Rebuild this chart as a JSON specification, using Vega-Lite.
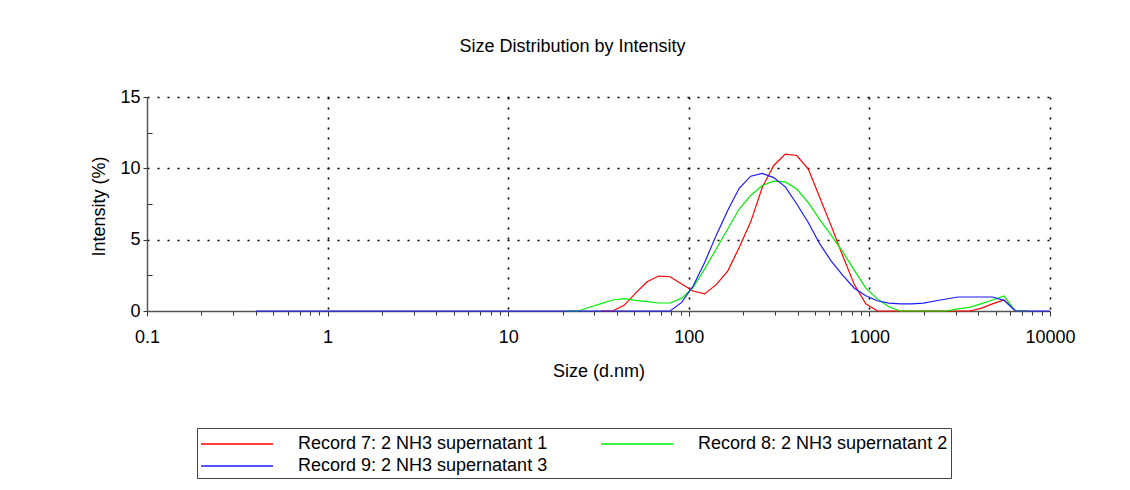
{
  "$schema": "https://vega.github.io/schema/vega-lite/v6.json",
  "autosize": {"type": "none"},
  "padding": {"left": 147, "top": 97, "right": 80, "bottom": 179},
  "width": 903,
  "height": 214,
  "background": "white",
  "title": {
    "text": "Size Distribution by Intensity",
    "anchor": "middle",
    "frame": "group",
    "dx": -26,
    "offset": 32,
    "font": "Liberation Sans",
    "fontSize": 18,
    "fontWeight": "normal",
    "color": "#000"
  },
  "config": {
    "view": {"stroke": null},
    "font": "Liberation Sans"
  },
  "data": {
    "values": [
      {"record": "Record 7: 2 NH3 supernatant 1", "size": 32.67, "intensity": 0},
      {"record": "Record 7: 2 NH3 supernatant 1", "size": 37.84, "intensity": 0},
      {"record": "Record 7: 2 NH3 supernatant 1", "size": 43.82, "intensity": 0.4},
      {"record": "Record 7: 2 NH3 supernatant 1", "size": 50.75, "intensity": 1.25},
      {"record": "Record 7: 2 NH3 supernatant 1", "size": 58.77, "intensity": 2.05},
      {"record": "Record 7: 2 NH3 supernatant 1", "size": 68.06, "intensity": 2.45},
      {"record": "Record 7: 2 NH3 supernatant 1", "size": 78.82, "intensity": 2.4},
      {"record": "Record 7: 2 NH3 supernatant 1", "size": 91.28, "intensity": 1.9},
      {"record": "Record 7: 2 NH3 supernatant 1", "size": 105.7, "intensity": 1.4},
      {"record": "Record 7: 2 NH3 supernatant 1", "size": 122.4, "intensity": 1.2},
      {"record": "Record 7: 2 NH3 supernatant 1", "size": 141.8, "intensity": 1.85},
      {"record": "Record 7: 2 NH3 supernatant 1", "size": 164.2, "intensity": 2.8},
      {"record": "Record 7: 2 NH3 supernatant 1", "size": 190.1, "intensity": 4.45},
      {"record": "Record 7: 2 NH3 supernatant 1", "size": 220.2, "intensity": 6.25},
      {"record": "Record 7: 2 NH3 supernatant 1", "size": 255.0, "intensity": 8.65},
      {"record": "Record 7: 2 NH3 supernatant 1", "size": 295.3, "intensity": 10.2},
      {"record": "Record 7: 2 NH3 supernatant 1", "size": 342.0, "intensity": 11.0},
      {"record": "Record 7: 2 NH3 supernatant 1", "size": 396.1, "intensity": 10.9},
      {"record": "Record 7: 2 NH3 supernatant 1", "size": 458.7, "intensity": 9.95},
      {"record": "Record 7: 2 NH3 supernatant 1", "size": 531.2, "intensity": 7.95},
      {"record": "Record 7: 2 NH3 supernatant 1", "size": 615.1, "intensity": 5.95},
      {"record": "Record 7: 2 NH3 supernatant 1", "size": 712.4, "intensity": 3.85},
      {"record": "Record 7: 2 NH3 supernatant 1", "size": 825.0, "intensity": 1.85},
      {"record": "Record 7: 2 NH3 supernatant 1", "size": 955.4, "intensity": 0.5},
      {"record": "Record 7: 2 NH3 supernatant 1", "size": 1106, "intensity": 0},
      {"record": "Record 7: 2 NH3 supernatant 1", "size": 1281, "intensity": 0},
      {"record": "Record 7: 2 NH3 supernatant 1", "size": 1484, "intensity": 0},
      {"record": "Record 7: 2 NH3 supernatant 1", "size": 1718, "intensity": 0},
      {"record": "Record 7: 2 NH3 supernatant 1", "size": 1990, "intensity": 0},
      {"record": "Record 7: 2 NH3 supernatant 1", "size": 2305, "intensity": 0},
      {"record": "Record 7: 2 NH3 supernatant 1", "size": 2669, "intensity": 0},
      {"record": "Record 7: 2 NH3 supernatant 1", "size": 3091, "intensity": 0},
      {"record": "Record 7: 2 NH3 supernatant 1", "size": 3580, "intensity": 0},
      {"record": "Record 7: 2 NH3 supernatant 1", "size": 4145, "intensity": 0.18},
      {"record": "Record 7: 2 NH3 supernatant 1", "size": 4801, "intensity": 0.5},
      {"record": "Record 7: 2 NH3 supernatant 1", "size": 5560, "intensity": 0.78},
      {"record": "Record 7: 2 NH3 supernatant 1", "size": 6439, "intensity": 0},
      {"record": "Record 7: 2 NH3 supernatant 1", "size": 7456, "intensity": 0},

      {"record": "Record 8: 2 NH3 supernatant 2", "size": 21.04, "intensity": 0},
      {"record": "Record 8: 2 NH3 supernatant 2", "size": 24.36, "intensity": 0},
      {"record": "Record 8: 2 NH3 supernatant 2", "size": 28.21, "intensity": 0.26},
      {"record": "Record 8: 2 NH3 supernatant 2", "size": 32.67, "intensity": 0.52},
      {"record": "Record 8: 2 NH3 supernatant 2", "size": 37.84, "intensity": 0.77},
      {"record": "Record 8: 2 NH3 supernatant 2", "size": 43.82, "intensity": 0.87},
      {"record": "Record 8: 2 NH3 supernatant 2", "size": 50.75, "intensity": 0.75},
      {"record": "Record 8: 2 NH3 supernatant 2", "size": 58.77, "intensity": 0.66},
      {"record": "Record 8: 2 NH3 supernatant 2", "size": 68.06, "intensity": 0.56},
      {"record": "Record 8: 2 NH3 supernatant 2", "size": 78.82, "intensity": 0.56},
      {"record": "Record 8: 2 NH3 supernatant 2", "size": 91.28, "intensity": 0.9},
      {"record": "Record 8: 2 NH3 supernatant 2", "size": 105.7, "intensity": 1.65},
      {"record": "Record 8: 2 NH3 supernatant 2", "size": 122.4, "intensity": 2.95},
      {"record": "Record 8: 2 NH3 supernatant 2", "size": 141.8, "intensity": 4.35},
      {"record": "Record 8: 2 NH3 supernatant 2", "size": 164.2, "intensity": 5.75},
      {"record": "Record 8: 2 NH3 supernatant 2", "size": 190.1, "intensity": 7.15},
      {"record": "Record 8: 2 NH3 supernatant 2", "size": 220.2, "intensity": 8.1},
      {"record": "Record 8: 2 NH3 supernatant 2", "size": 255.0, "intensity": 8.8},
      {"record": "Record 8: 2 NH3 supernatant 2", "size": 295.3, "intensity": 9.1},
      {"record": "Record 8: 2 NH3 supernatant 2", "size": 342.0, "intensity": 9.05},
      {"record": "Record 8: 2 NH3 supernatant 2", "size": 396.1, "intensity": 8.55},
      {"record": "Record 8: 2 NH3 supernatant 2", "size": 458.7, "intensity": 7.6},
      {"record": "Record 8: 2 NH3 supernatant 2", "size": 531.2, "intensity": 6.4},
      {"record": "Record 8: 2 NH3 supernatant 2", "size": 615.1, "intensity": 5.3},
      {"record": "Record 8: 2 NH3 supernatant 2", "size": 712.4, "intensity": 4.15},
      {"record": "Record 8: 2 NH3 supernatant 2", "size": 825.0, "intensity": 2.85},
      {"record": "Record 8: 2 NH3 supernatant 2", "size": 955.4, "intensity": 1.6},
      {"record": "Record 8: 2 NH3 supernatant 2", "size": 1106, "intensity": 0.85},
      {"record": "Record 8: 2 NH3 supernatant 2", "size": 1281, "intensity": 0.3},
      {"record": "Record 8: 2 NH3 supernatant 2", "size": 1484, "intensity": 0},
      {"record": "Record 8: 2 NH3 supernatant 2", "size": 1718, "intensity": 0},
      {"record": "Record 8: 2 NH3 supernatant 2", "size": 1990, "intensity": 0},
      {"record": "Record 8: 2 NH3 supernatant 2", "size": 2305, "intensity": 0},
      {"record": "Record 8: 2 NH3 supernatant 2", "size": 2669, "intensity": 0},
      {"record": "Record 8: 2 NH3 supernatant 2", "size": 3091, "intensity": 0.15},
      {"record": "Record 8: 2 NH3 supernatant 2", "size": 3580, "intensity": 0.25},
      {"record": "Record 8: 2 NH3 supernatant 2", "size": 4145, "intensity": 0.5},
      {"record": "Record 8: 2 NH3 supernatant 2", "size": 4801, "intensity": 0.77},
      {"record": "Record 8: 2 NH3 supernatant 2", "size": 5560, "intensity": 1.05},
      {"record": "Record 8: 2 NH3 supernatant 2", "size": 6439, "intensity": 0},
      {"record": "Record 8: 2 NH3 supernatant 2", "size": 7456, "intensity": 0},

      {"record": "Record 9: 2 NH3 supernatant 3", "size": 0.4, "intensity": 0},
      {"record": "Record 9: 2 NH3 supernatant 3", "size": 0.4632, "intensity": 0},
      {"record": "Record 9: 2 NH3 supernatant 3", "size": 0.5365, "intensity": 0},
      {"record": "Record 9: 2 NH3 supernatant 3", "size": 0.6213, "intensity": 0},
      {"record": "Record 9: 2 NH3 supernatant 3", "size": 0.7195, "intensity": 0},
      {"record": "Record 9: 2 NH3 supernatant 3", "size": 0.8332, "intensity": 0},
      {"record": "Record 9: 2 NH3 supernatant 3", "size": 0.9649, "intensity": 0},
      {"record": "Record 9: 2 NH3 supernatant 3", "size": 1.117, "intensity": 0},
      {"record": "Record 9: 2 NH3 supernatant 3", "size": 1.294, "intensity": 0},
      {"record": "Record 9: 2 NH3 supernatant 3", "size": 1.499, "intensity": 0},
      {"record": "Record 9: 2 NH3 supernatant 3", "size": 1.736, "intensity": 0},
      {"record": "Record 9: 2 NH3 supernatant 3", "size": 2.01, "intensity": 0},
      {"record": "Record 9: 2 NH3 supernatant 3", "size": 2.328, "intensity": 0},
      {"record": "Record 9: 2 NH3 supernatant 3", "size": 2.696, "intensity": 0},
      {"record": "Record 9: 2 NH3 supernatant 3", "size": 3.122, "intensity": 0},
      {"record": "Record 9: 2 NH3 supernatant 3", "size": 3.615, "intensity": 0},
      {"record": "Record 9: 2 NH3 supernatant 3", "size": 4.187, "intensity": 0},
      {"record": "Record 9: 2 NH3 supernatant 3", "size": 4.849, "intensity": 0},
      {"record": "Record 9: 2 NH3 supernatant 3", "size": 5.615, "intensity": 0},
      {"record": "Record 9: 2 NH3 supernatant 3", "size": 6.503, "intensity": 0},
      {"record": "Record 9: 2 NH3 supernatant 3", "size": 7.531, "intensity": 0},
      {"record": "Record 9: 2 NH3 supernatant 3", "size": 8.721, "intensity": 0},
      {"record": "Record 9: 2 NH3 supernatant 3", "size": 10.1, "intensity": 0},
      {"record": "Record 9: 2 NH3 supernatant 3", "size": 11.7, "intensity": 0},
      {"record": "Record 9: 2 NH3 supernatant 3", "size": 13.54, "intensity": 0},
      {"record": "Record 9: 2 NH3 supernatant 3", "size": 15.69, "intensity": 0},
      {"record": "Record 9: 2 NH3 supernatant 3", "size": 18.17, "intensity": 0},
      {"record": "Record 9: 2 NH3 supernatant 3", "size": 21.04, "intensity": 0},
      {"record": "Record 9: 2 NH3 supernatant 3", "size": 24.36, "intensity": 0},
      {"record": "Record 9: 2 NH3 supernatant 3", "size": 28.21, "intensity": 0},
      {"record": "Record 9: 2 NH3 supernatant 3", "size": 32.67, "intensity": 0},
      {"record": "Record 9: 2 NH3 supernatant 3", "size": 37.84, "intensity": 0},
      {"record": "Record 9: 2 NH3 supernatant 3", "size": 43.82, "intensity": 0},
      {"record": "Record 9: 2 NH3 supernatant 3", "size": 50.75, "intensity": 0},
      {"record": "Record 9: 2 NH3 supernatant 3", "size": 58.77, "intensity": 0},
      {"record": "Record 9: 2 NH3 supernatant 3", "size": 68.06, "intensity": 0},
      {"record": "Record 9: 2 NH3 supernatant 3", "size": 78.82, "intensity": 0},
      {"record": "Record 9: 2 NH3 supernatant 3", "size": 91.28, "intensity": 0.6},
      {"record": "Record 9: 2 NH3 supernatant 3", "size": 105.7, "intensity": 1.75},
      {"record": "Record 9: 2 NH3 supernatant 3", "size": 122.4, "intensity": 3.4},
      {"record": "Record 9: 2 NH3 supernatant 3", "size": 141.8, "intensity": 5.3},
      {"record": "Record 9: 2 NH3 supernatant 3", "size": 164.2, "intensity": 7.05},
      {"record": "Record 9: 2 NH3 supernatant 3", "size": 190.1, "intensity": 8.6},
      {"record": "Record 9: 2 NH3 supernatant 3", "size": 220.2, "intensity": 9.45},
      {"record": "Record 9: 2 NH3 supernatant 3", "size": 255.0, "intensity": 9.65},
      {"record": "Record 9: 2 NH3 supernatant 3", "size": 295.3, "intensity": 9.35},
      {"record": "Record 9: 2 NH3 supernatant 3", "size": 342.0, "intensity": 8.7},
      {"record": "Record 9: 2 NH3 supernatant 3", "size": 396.1, "intensity": 7.5},
      {"record": "Record 9: 2 NH3 supernatant 3", "size": 458.7, "intensity": 6.2},
      {"record": "Record 9: 2 NH3 supernatant 3", "size": 531.2, "intensity": 4.7},
      {"record": "Record 9: 2 NH3 supernatant 3", "size": 615.1, "intensity": 3.5},
      {"record": "Record 9: 2 NH3 supernatant 3", "size": 712.4, "intensity": 2.5},
      {"record": "Record 9: 2 NH3 supernatant 3", "size": 825.0, "intensity": 1.6},
      {"record": "Record 9: 2 NH3 supernatant 3", "size": 955.4, "intensity": 1.07},
      {"record": "Record 9: 2 NH3 supernatant 3", "size": 1106, "intensity": 0.72},
      {"record": "Record 9: 2 NH3 supernatant 3", "size": 1281, "intensity": 0.55},
      {"record": "Record 9: 2 NH3 supernatant 3", "size": 1484, "intensity": 0.5},
      {"record": "Record 9: 2 NH3 supernatant 3", "size": 1718, "intensity": 0.5},
      {"record": "Record 9: 2 NH3 supernatant 3", "size": 1990, "intensity": 0.55},
      {"record": "Record 9: 2 NH3 supernatant 3", "size": 2305, "intensity": 0.7},
      {"record": "Record 9: 2 NH3 supernatant 3", "size": 2669, "intensity": 0.84},
      {"record": "Record 9: 2 NH3 supernatant 3", "size": 3091, "intensity": 0.98},
      {"record": "Record 9: 2 NH3 supernatant 3", "size": 3580, "intensity": 0.98},
      {"record": "Record 9: 2 NH3 supernatant 3", "size": 4145, "intensity": 0.98},
      {"record": "Record 9: 2 NH3 supernatant 3", "size": 4801, "intensity": 0.98},
      {"record": "Record 9: 2 NH3 supernatant 3", "size": 5560, "intensity": 0.75},
      {"record": "Record 9: 2 NH3 supernatant 3", "size": 6439, "intensity": 0},
      {"record": "Record 9: 2 NH3 supernatant 3", "size": 7456, "intensity": 0},
      {"record": "Record 9: 2 NH3 supernatant 3", "size": 8635, "intensity": 0},
      {"record": "Record 9: 2 NH3 supernatant 3", "size": 10000, "intensity": 0}
    ]
  },
  "mark": {"type": "line", "strokeWidth": 1.2, "interpolate": "linear"},
  "encoding": {
    "x": {
      "field": "size",
      "type": "quantitative",
      "scale": {"type": "log", "domain": [0.1, 10000], "nice": false},
      "axis": {
        "title": "Size (d.nm)",
        "titleFont": "Liberation Sans",
        "titleFontSize": 18,
        "titleFontWeight": "normal",
        "titleColor": "#000",
        "titleY": 60,
        "titleBaseline": "middle",
        "values": [0.1, 0.2, 0.3, 0.4, 0.5, 0.6, 0.7, 0.8, 0.9,
                   1, 2, 3, 4, 5, 6, 7, 8, 9,
                   10, 20, 30, 40, 50, 60, 70, 80, 90,
                   100, 200, 300, 400, 500, 600, 700, 800, 900,
                   1000, 2000, 3000, 4000, 5000, 6000, 7000, 8000, 9000, 10000],
        "format": "~g",
        "labelExpr": "abs(log(datum.value) / LN10 - round(log(datum.value) / LN10)) < 0.000001 ? datum.label : ''",
        "labelFont": "Liberation Sans",
        "labelFontSize": 18,
        "labelColor": "#000",
        "labelFlush": false,
        "labelOverlap": false,
        "labelPadding": 12,
        "domainColor": "#555",
        "domainWidth": 1.5,
        "tickColor": "#333",
        "tickWidth": 1,
        "tickSize": {"condition": {"test": "abs(log(datum.value) / LN10 - round(log(datum.value) / LN10)) < 0.000001", "value": 5}, "value": 4},
        "grid": true,
        "gridColor": "#000",
        "gridWidth": 1.6,
        "gridDash": [2, 8],
        "gridOpacity": {"condition": {"test": "abs(log(datum.value) / LN10 - round(log(datum.value) / LN10)) < 0.000001 && datum.value > 0.2", "value": 1}, "value": 0}
      }
    },
    "y": {
      "field": "intensity",
      "type": "quantitative",
      "scale": {"domain": [0, 15], "nice": false},
      "axis": {
        "title": "Intensity (%)",
        "titleFont": "Liberation Sans",
        "titleFontSize": 18,
        "titleFontWeight": "normal",
        "titleColor": "#000",
        "titleX": -48,
        "titleY": 109,
        "titleBaseline": "middle",
        "values": [0, 2.5, 5, 7.5, 10, 12.5, 15],
        "labelExpr": "datum.value % 5 == 0 ? datum.label : ''",
        "labelFont": "Liberation Sans",
        "labelFontSize": 18,
        "labelColor": "#000",
        "labelPadding": 3,
        "domainColor": "#555",
        "domainWidth": 1.5,
        "tickColor": "#333",
        "tickWidth": 1,
        "tickSize": {"condition": {"test": "datum.value % 5 != 0", "value": -5}, "value": 4},
        "grid": true,
        "gridColor": "#000",
        "gridWidth": 1.6,
        "gridDash": [2, 8],
        "gridOpacity": {"condition": {"test": "datum.value % 5 == 0 && datum.value > 0", "value": 1}, "value": 0}
      }
    },
    "color": {
      "field": "record",
      "type": "nominal",
      "scale": {
        "domain": ["Record 7: 2 NH3 supernatant 1", "Record 8: 2 NH3 supernatant 2", "Record 9: 2 NH3 supernatant 3"],
        "range": ["#ff0000", "#00ee00", "#1a1aff"]
      },
      "legend": {
        "title": null,
        "orient": "none",
        "direction": "horizontal",
        "legendX": 50,
        "legendY": 331,
        "columns": 2,
        "columnPadding": 50,
        "rowPadding": 0,
        "padding": 3,
        "strokeColor": "#444",
        "symbolType": "M-1,0H5",
        "symbolSize": 576,
        "symbolStrokeWidth": 1.5,
        "labelOffset": 72,
        "labelFont": "Liberation Sans",
        "labelFontSize": 18,
        "labelColor": "#000",
        "labelLimit": 500
      }
    }
  }
}
